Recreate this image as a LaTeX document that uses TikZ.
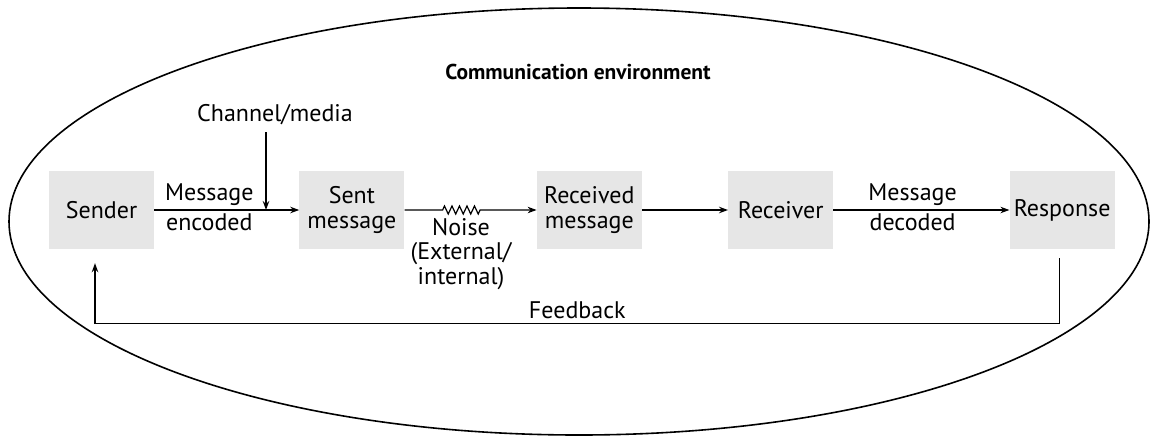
\documentclass[tikz,border=0pt]{standalone}
\usepackage{fontspec}
\setmainfont{PT Sans}
\usepackage{tikz}
\usetikzlibrary{arrows.meta,positioning,calc,decorations.pathmorphing}
\definecolor{boxgray}{HTML}{E6E6E6}
\tikzstyle{BOX} = [rectangle, fill=boxgray, minimum width=105pt, minimum height=78pt, text centered, align=center, inner sep=0pt, font=\fontsize{24}{25}\selectfont]
\tikzstyle{TXT} = [align=center, inner sep=1pt, font=\fontsize{24}{24.5}\selectfont]
\tikzstyle{LINE} = [draw, line width=1.2pt, -{Stealth[length=9pt,width=6.5pt]}]

\begin{document}
\begin{tikzpicture}[x=1pt, y=-1pt]
\useasboundingbox (0,0) rectangle (1150,437);
% Place nodes
\node [BOX] (sender) at (101.5,210) {Sender};
\node [BOX, right=145pt of sender] (sent) {Sent\\message};
\node [BOX, right=132pt of sent] (received) {Received\\message};
\node [BOX, right=86pt of received] (receiver) {Receiver};
\node [BOX, right=176pt of receiver] (response) {Response};
\node [TXT, font=\fontsize{21.5}{25}\selectfont\bfseries] (title) at (578,72) {Communication environment};
\node [TXT] (channel) at (275,115) {Channel/media};
\node [TXT] (noise) at (461,254) {Noise\\(External/\\internal)};
\coordinate (ch_top) at (266,132);
\coordinate (ch_bot) at (266,210);
\coordinate (fb_start) at ($(response.south)+(-2.5,9)$);
\coordinate (fb_end) at ($(sender.south)+(-6.5,14)$);
% Environment
\draw [line width=1.6pt] (579,221.5) ellipse [x radius=570pt, y radius=213.5pt];
% LINES and ARROWS
\path [LINE] (sender) -- node [TXT, pos=0.38, above=3pt] {Message} node [TXT, pos=0.38, below=2pt] {encoded} (sent);
\path [LINE] (ch_top) -- (ch_bot);
\path [LINE] (sent.east) -- ++(38,0) decorate [decoration={zigzag, segment length=7.5pt, amplitude=4pt}] {-- ++(38,0)} -- (received.west);
\path [LINE] (received) -- (receiver);
\path [LINE] (receiver) -- node [TXT, pos=0.45, above=3pt] {Message} node [TXT, pos=0.45, below=2pt] {decoded} (response);
\path [LINE] (fb_start) -- ++(0,65) -| node [TXT, pos=0.25, above=3pt] {Feedback} (fb_end);
\end{tikzpicture}
\end{document}
